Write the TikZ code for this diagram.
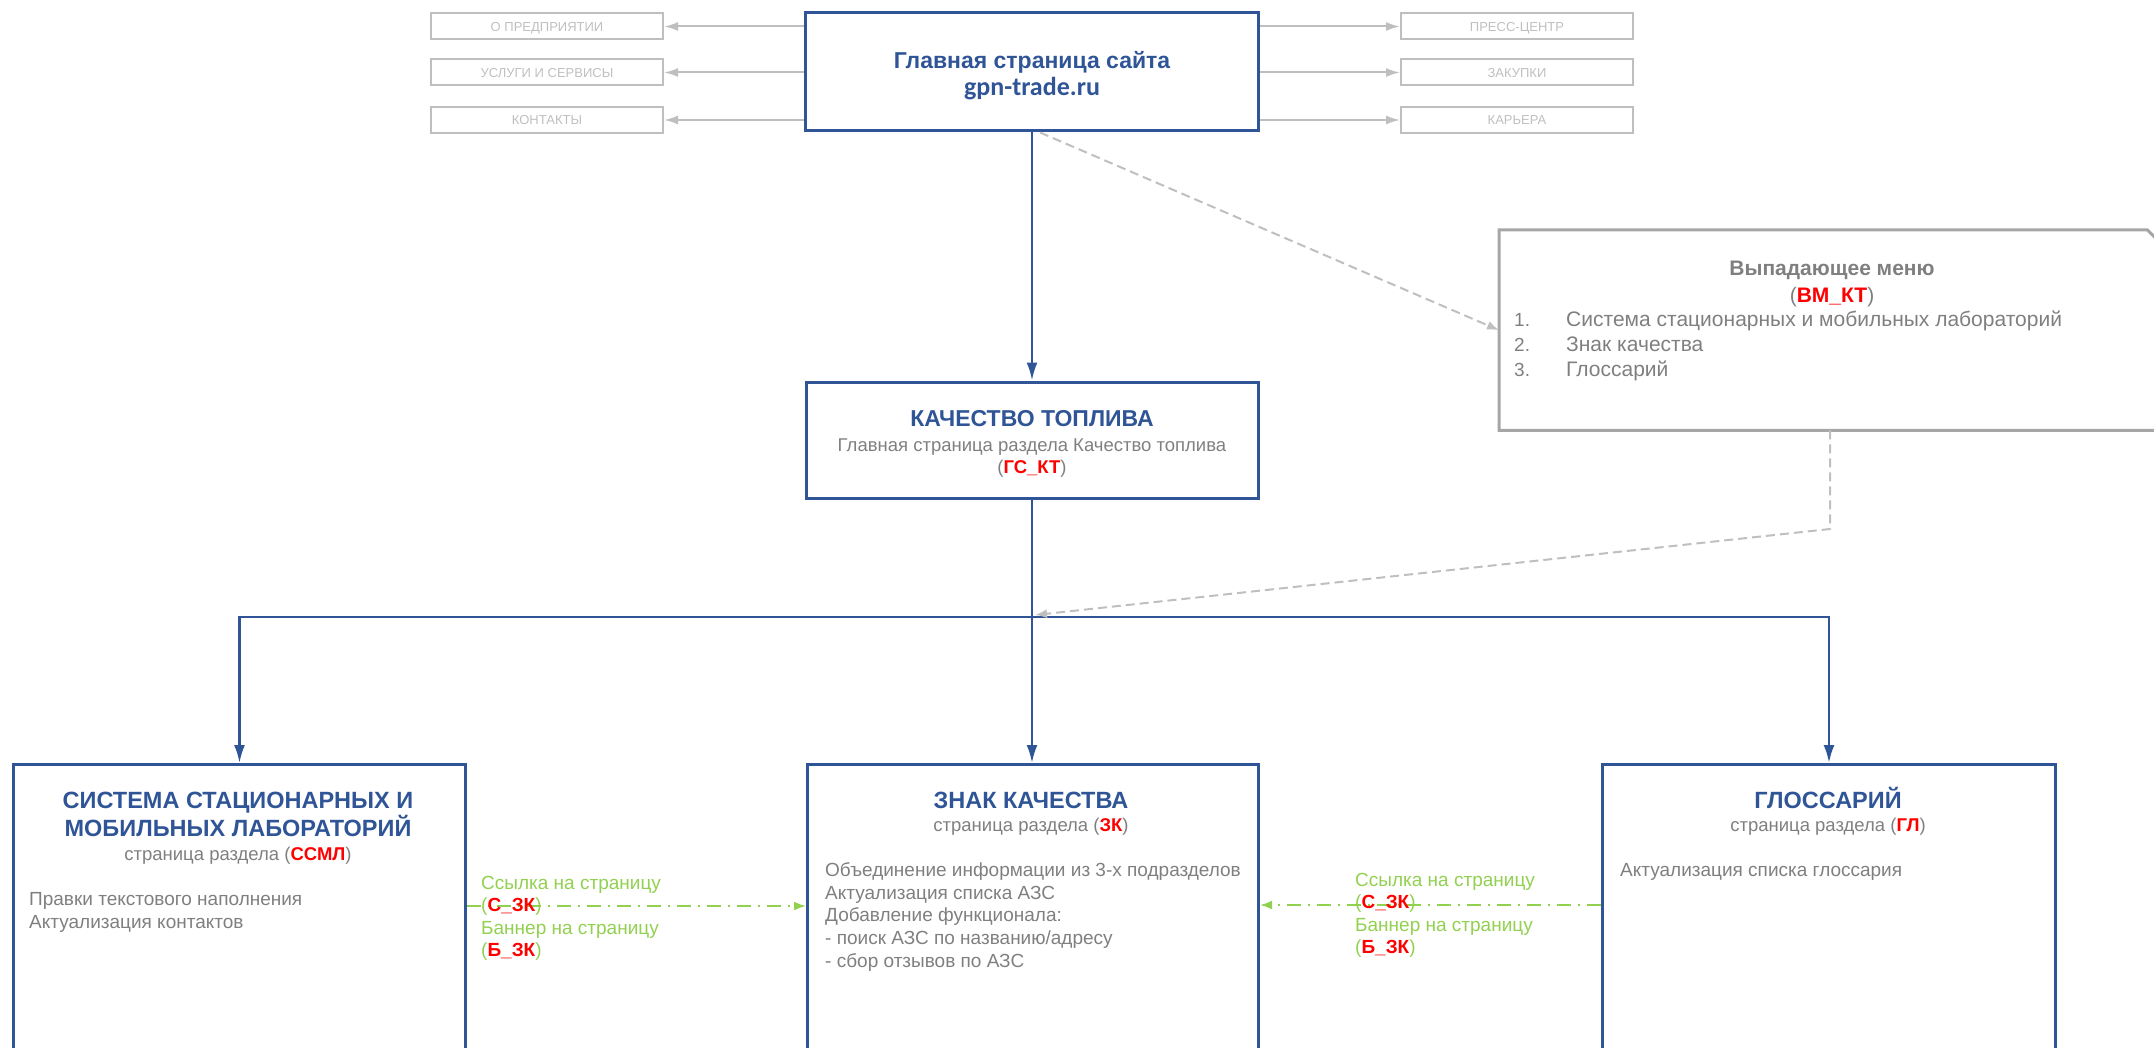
\documentclass[tikz,border=0pt]{standalone}
\usepackage{fontspec}
\setmainfont{Liberation Sans}
\newfontfamily\sitefont{Carlito}
\usetikzlibrary{arrows.meta,positioning}

\definecolor{pageblue}{HTML}{2F5597}
\definecolor{textgray}{HTML}{7F7F7F}
\definecolor{navgray}{HTML}{BFBFBF}
\definecolor{menugray}{HTML}{A6A6A6}
\definecolor{codered}{HTML}{FF0000}
\definecolor{linkgreen}{HTML}{92D050}

\newcommand{\px}[2]{\fontsize{#1}{#2}\selectfont}
\newcommand{\pagecode}[1]{{\mdseries(}\textcolor{codered}{\bfseries #1}{\mdseries)}}

\tikzset{
  navbox/.style={draw=navgray, line width=2pt, minimum width=232pt, minimum height=26pt,
    inner sep=0pt, text depth=0pt, text=navgray, font=\px{13}{15}},
  pagebox/.style={draw=pageblue, line width=3pt, inner sep=0pt},
  titletext/.style={anchor=base, inner sep=0pt, text=pageblue, align=center},
  graytext/.style={anchor=base, inner sep=0pt, text=textgray, align=center, font=\px{18.5}{22}},
  bodytext/.style={anchor=base west, inner sep=0pt, text=textgray, align=left, font=\px{19}{22.7}},
  linktext/.style={anchor=base west, inner sep=0pt, text=linkgreen, align=left, font=\px{19}{22.4}},
  menutext/.style={inner sep=0pt, text=textgray},
  menuline/.style={draw=menugray, line width=3pt},
  navarrow/.style={draw=navgray, line width=2pt, -{Latex[length=14pt,width=9pt]}},
  flow/.style={draw=pageblue, line width=2.5pt, -{Latex[length=18pt,width=11pt]}},
  hint/.style={draw=navgray, line width=2pt, dash pattern=on 9pt off 5pt, -{Latex[length=12pt,width=9pt]}},
  linkarrow/.style={draw=linkgreen, line width=2pt, dash pattern=on 14pt off 7pt on 2pt off 7pt,
    -{Latex[length=12pt,width=9pt]}}
}

\begin{document}
\begin{tikzpicture}[x=1pt, y=-1pt]
    \useasboundingbox (0,0) rectangle (2154,1048);
    \clip (0,0) rectangle (2154,1048);

    % Home page of the site
    \node[pagebox, minimum width=453pt, minimum height=118pt] (home) at (1032,72) {};
    \node[titletext, font=\bfseries\px{23}{28}] (hometitle) at (1032,69) {Главная страница сайта};
    \node[titletext, font=\sitefont\bfseries\px{26}{30}] (homeurl) at (1032,96) {gpn-trade.ru};

    % Top menu items
    \foreach \name/\txt/\row in {about/О ПРЕДПРИЯТИИ/26.5, services/УСЛУГИ И СЕРВИСЫ/72.5, contacts/КОНТАКТЫ/120} {
        \node[navbox, anchor=east] (\name) at (664,\row) {\txt};
        \draw[navarrow] (home.west |- \name) -- (\name);
    }
    \foreach \name/\txt/\row in {press/ПРЕСС-ЦЕНТР/26.5, purchases/ЗАКУПКИ/72.5, career/КАРЬЕРА/120} {
        \node[navbox, anchor=west] (\name) at (1400,\row) {\txt};
        \draw[navarrow] (home.east |- \name) -- (\name);
    }

    % Section main page
    \node[pagebox, minimum width=452pt, minimum height=116pt] (kt) at (1032,440) {};
    \node[titletext, font=\bfseries\px{23}{28}] (kttitle) at (1032,426) {КАЧЕСТВО ТОПЛИВА};
    \node[graytext] (ktsub) at (1032,473.5) {Главная страница раздела Качество топлива\\\pagecode{ГС\_КТ}};
    \draw[flow] (home.south) -- (kt.north);

    % Dropdown menu (snipped corner)
    \node[minimum width=670pt, minimum height=200pt, anchor=north west, inner sep=0pt] (menu) at (1499,230) {};
    \draw[menuline] (menu.north west) -- ([xshift=-22pt]menu.north east) -- ([yshift=-22pt]menu.north east)
        -- (menu.south east) -- (menu.south west) -- cycle;
    \node[menutext, anchor=base, align=center, font=\bfseries\px{21}{27}] (menutitle) at (1832,302.5)
        {Выпадающее меню\\\pagecode{ВМ\_КТ}};
    \node[menutext, anchor=base west, align=left, font=\px{19}{25.5}] (menunums) at (1514,377) {1.\\2.\\3.};
    \node[menutext, anchor=base west, align=left, font=\px{21}{25.5}] (menuitems) at (1566,377)
        {Система стационарных и мобильных лабораторий\\Знак качества\\Глоссарий};
    \draw[hint] ([xshift=8pt]home.south) -- (menu.west);

    % Section pages
    \node[pagebox, anchor=north west, minimum width=452pt, minimum height=320pt] (ssml) at (12,763) {};
    \node[pagebox, anchor=north west, minimum width=451pt, minimum height=320pt] (zk) at (806,763) {};
    \node[pagebox, anchor=north west, minimum width=453pt, minimum height=320pt] (gl) at (1601,763) {};

    \node[titletext, font=\bfseries\px{23.5}{28}] (ssmltitle) at (238,836) {СИСТЕМА СТАЦИОНАРНЫХ И\\МОБИЛЬНЫХ ЛАБОРАТОРИЙ};
    \node[graytext] (ssmlsub) at (238,860.5) {страница раздела \pagecode{ССМЛ}};
    \node[bodytext] (ssmlbody) at (29,928.2) {Правки текстового наполнения\\Актуализация контактов};

    \node[titletext, font=\bfseries\px{23.5}{28}] (zktitle) at (1031,808) {ЗНАК КАЧЕСТВА};
    \node[graytext] (zksub) at (1031,831.5) {страница раздела \pagecode{ЗК}};
    \node[bodytext] (zkbody) at (825,967.3) {Объединение информации из 3-х подразделов\\Актуализация списка АЗС\\
        Добавление функционала:\\- поиск АЗС по названию/адресу\\- сбор отзывов по АЗС};

    \node[titletext, font=\bfseries\px{23.5}{28}] (gltitle) at (1828,808) {ГЛОССАРИЙ};
    \node[graytext] (glsub) at (1828,831.5) {страница раздела \pagecode{ГЛ}};
    \node[bodytext] (glbody) at (1620,876.5) {Актуализация списка глоссария};

    % Branches to the section pages
    \coordinate (fork) at (1032,617);
    \draw[flow] (kt.south) -- (kt.south |- zk.north);
    \draw[flow] (fork) -| (ssml.north);
    \draw[flow] (fork) -| (gl.north);
    \coordinate (menubend) at (1830,529);
    \draw[hint] (menu.south -| menubend) -- (menubend) -- ([xshift=3pt,yshift=2pt]fork);

    % Links and banners to the quality mark page
    \draw[linkarrow] (ssml.east |- 0,906) -- (zk.west |- 0,906);
    \draw[linkarrow] (gl.west |- 0,905) -- (zk.east |- 0,905);
    \node[linktext] (leftlinks) at (481,956.7) {Ссылка на страницу\\\pagecode{С\_ЗК}\\Баннер на страницу\\\pagecode{Б\_ЗК}};
    \node[linktext] (rightlinks) at (1355,953.7) {Ссылка на страницу\\\pagecode{С\_ЗК}\\Баннер на страницу\\\pagecode{Б\_ЗК}};
\end{tikzpicture}
\end{document}
